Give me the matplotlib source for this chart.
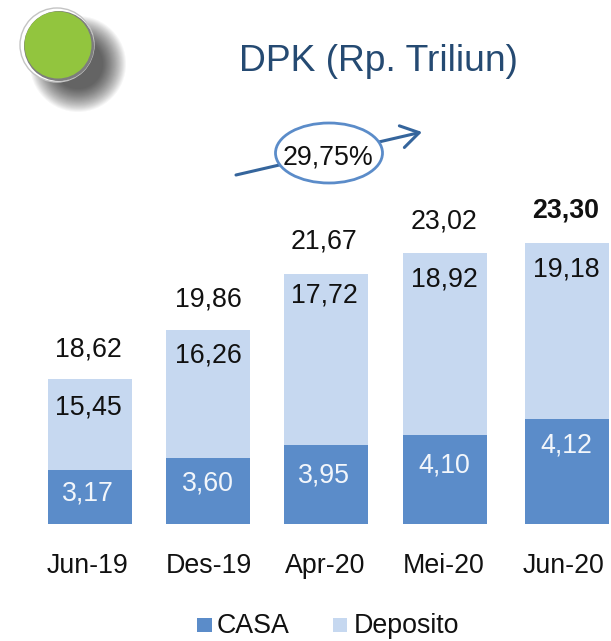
import matplotlib
matplotlib.use("Agg")
import matplotlib.pyplot as plt
from matplotlib.patches import Circle, Ellipse, FancyArrowPatch

# bulan dan nilai yang tertulis di chart
bulan = ["Jun-19", "Des-19", "Apr-20", "Mei-20", "Jun-20"]
casa = ["3,17", "3,60", "3,95", "4,10", "4,12"]
deposito = ["15,45", "16,26", "17,72", "18,92", "19,18"]
total = ["18,62", "19,86", "21,67", "23,02", "23,30"]

# tinggi batang seperti tergambar (tidak sebanding dengan label)
tinggi_casa = [54, 66, 79, 89, 105]
tinggi_deposito = [91, 128, 171, 182, 176]

W, H = 611, 641
BASE = 524
BIRU = "#5b8cc9"
BIRU_MUDA = "#c6d8f0"
FS = 19.3
plt.rcParams["font.family"] = ["Liberation Sans", "DejaVu Sans"]

# posisi dalam piksel, jaraknya tidak rata di gambar asli
x_batang = [89.5, 207.5, 326, 445, 566.5]
x_bulan = [88, 209, 325, 444, 564]
x_label = [88, 208, 324, 444, 566]
y_casa = [501, 490, 482, 473, 452]
y_deposito = [414, 363, 303, 286, 276]
y_total = [357, 307, 248, 229, 218]

fig = plt.figure(figsize=(W / 100, H / 100), dpi=100)

# area batang, garis dasar di y=524 piksel
ax = fig.add_axes([0, (H - BASE) / H, 1, 300 / H])
ax.set_xlim(0, W)
ax.set_ylim(0, 300)
ax.axis("off")
ax.bar(x_batang, tinggi_casa, width=84, color=BIRU)
ax.bar(x_batang, tinggi_deposito, width=84, bottom=tinggi_casa, color=BIRU_MUDA)

# lapisan teks dan hiasan dalam koordinat piksel
top = fig.add_axes([0, 0, 1, 1])
top.set_xlim(0, W)
top.set_ylim(H, 0)
top.axis("off")
top.patch.set_alpha(0)

for i in range(len(bulan)):
    top.text(x_label[i], y_casa[i], casa[i], ha="center", va="baseline", color="#f2f6fb", fontsize=FS)
    top.text(x_label[i], y_deposito[i], deposito[i], ha="center", va="baseline", color="#111111", fontsize=FS)
    top.text(x_label[i], y_total[i], total[i], ha="center", va="baseline", color="#111111", fontsize=FS,
             fontweight="bold" if i == 4 else "normal")
    top.text(x_bulan[i], 573, bulan[i], ha="center", va="baseline", color="#111111", fontsize=FS)

# bayangan tombol hijau
for k in range(24):
    top.add_patch(Circle((78, 64), 48 - k * 1.0, color="black", alpha=0.035, lw=0))
top.add_patch(Circle((57, 45), 37, fc="white", ec="#c4c4c4", lw=1))
top.add_patch(Circle((59, 46), 35, fc="#7d7d7d", lw=0))
top.add_patch(Circle((58, 45), 33.5, fc="#92c53e", lw=0))

top.text(378.5, 71, "DPK (Rp. Triliun)", ha="center", va="baseline", fontsize=26.8, color="#254a72")

# panah tren dan elips persentase
top.add_patch(FancyArrowPatch((236, 175), (422, 132), arrowstyle="->,head_length=8,head_width=5",
                              color="#35659c", lw=2.2, mutation_scale=1.6, shrinkA=0, shrinkB=0))
top.add_patch(Ellipse((329, 153), 107, 60, fc="white", ec=BIRU, lw=2))
top.text(328, 164, "29,75%", ha="center", va="baseline", color="#111111", fontsize=FS)

# legenda
top.add_patch(plt.Rectangle((197, 618), 15, 14, color=BIRU, lw=0))
top.text(217, 633, "CASA", ha="left", va="baseline", color="#111111", fontsize=FS)
top.add_patch(plt.Rectangle((333, 618), 14, 14, color=BIRU_MUDA, lw=0))
top.text(354, 633, "Deposito", ha="left", va="baseline", color="#111111", fontsize=FS)

fig.savefig("out.png", dpi=100)
